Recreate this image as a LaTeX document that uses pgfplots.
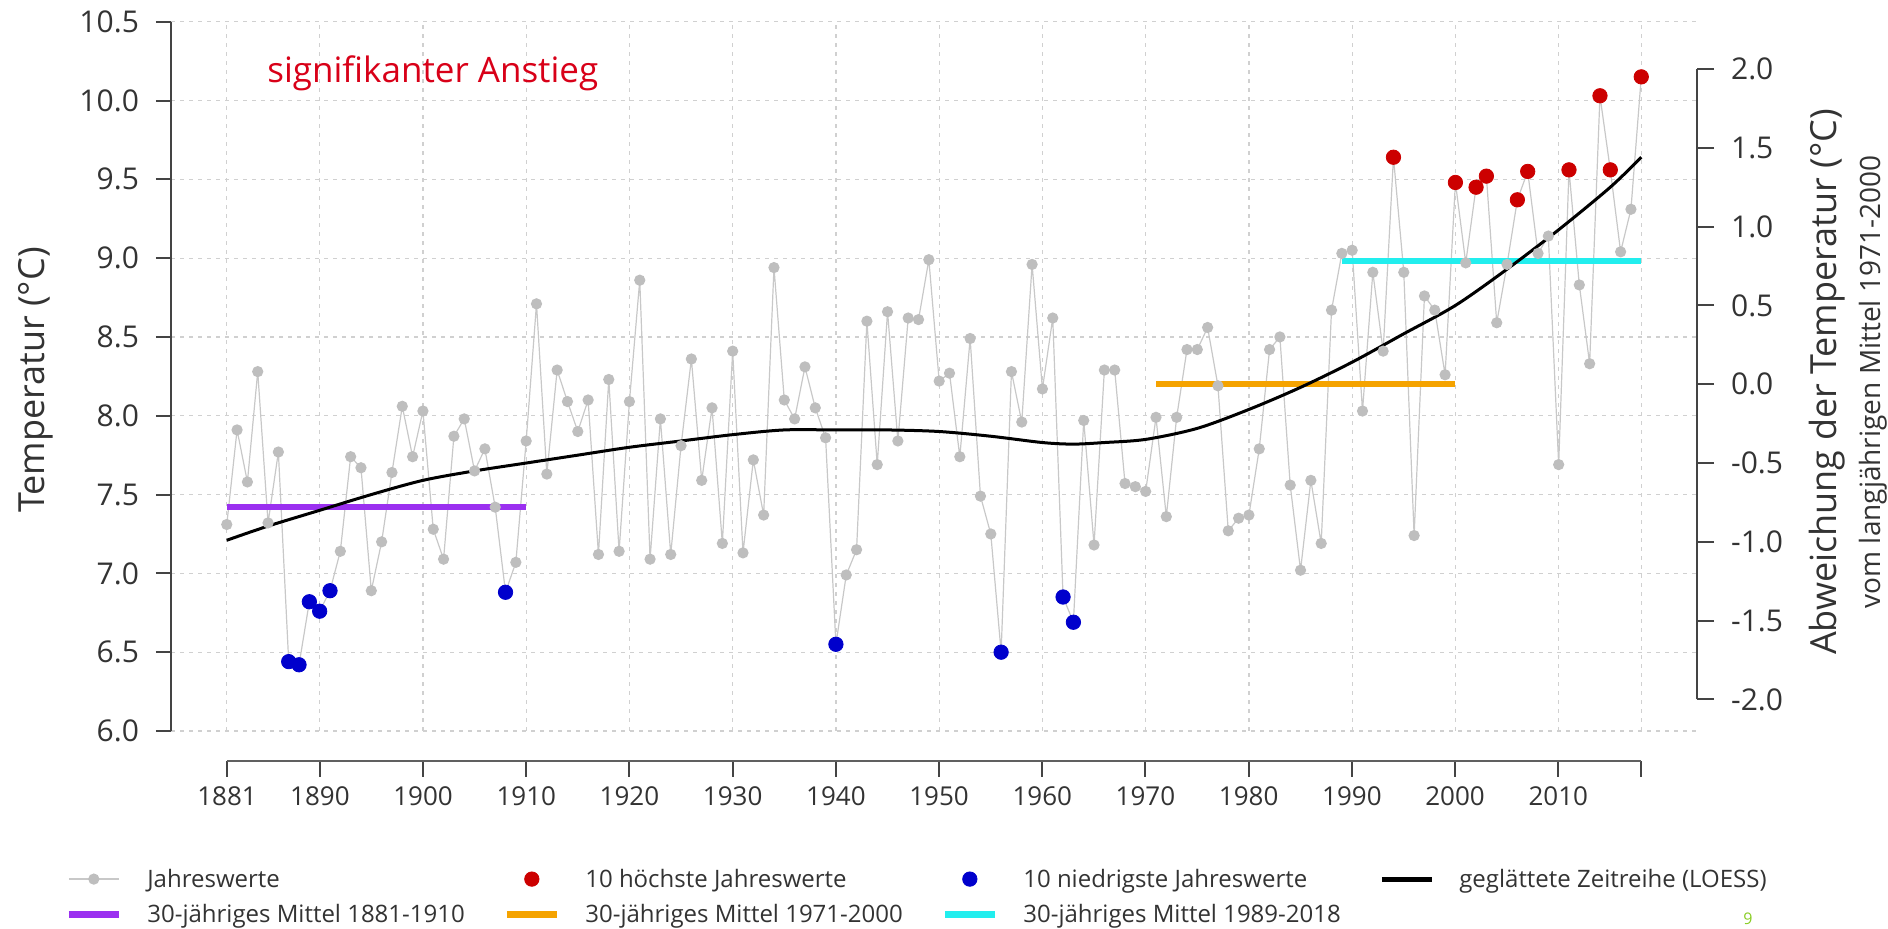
\documentclass[border=0pt]{standalone}
\usepackage{pgfplots}
\pgfplotsset{compat=1.18}
\usepackage{fontspec}
\setmainfont{Open Sans}

\definecolor{ptgray}{HTML}{BEBEBE}
\definecolor{lngray}{HTML}{C8C8C8}
\definecolor{hired}{HTML}{CC0000}
\definecolor{lowblue}{HTML}{0000CC}
\definecolor{mpurple}{HTML}{9B30F0}
\definecolor{morange}{HTML}{F5A300}
\definecolor{mcyan}{HTML}{22EEEE}
\definecolor{axisc}{HTML}{444444}
\definecolor{textc}{HTML}{333333}
\definecolor{gridc}{HTML}{D0D0D0}
\definecolor{sigred}{HTML}{D80018}
\definecolor{pagegreen}{HTML}{88CC22}

\newcommand\tickfont{\fontsize{15}{17}\selectfont}
\newcommand\xtickfont{\fontsize{13}{15}\selectfont}

% annual means 1881-2018
\pgfplotstableread{
year temp
1881 7.31
1882 7.91
1883 7.58
1884 8.28
1885 7.32
1886 7.77
1887 6.44
1888 6.42
1889 6.82
1890 6.76
1891 6.89
1892 7.14
1893 7.74
1894 7.67
1895 6.89
1896 7.20
1897 7.64
1898 8.06
1899 7.74
1900 8.03
1901 7.28
1902 7.09
1903 7.87
1904 7.98
1905 7.65
1906 7.79
1907 7.42
1908 6.88
1909 7.07
1910 7.84
1911 8.71
1912 7.63
1913 8.29
1914 8.09
1915 7.90
1916 8.10
1917 7.12
1918 8.23
1919 7.14
1920 8.09
1921 8.86
1922 7.09
1923 7.98
1924 7.12
1925 7.81
1926 8.36
1927 7.59
1928 8.05
1929 7.19
1930 8.41
1931 7.13
1932 7.72
1933 7.37
1934 8.94
1935 8.10
1936 7.98
1937 8.31
1938 8.05
1939 7.86
1940 6.55
1941 6.99
1942 7.15
1943 8.60
1944 7.69
1945 8.66
1946 7.84
1947 8.62
1948 8.61
1949 8.99
1950 8.22
1951 8.27
1952 7.74
1953 8.49
1954 7.49
1955 7.25
1956 6.50
1957 8.28
1958 7.96
1959 8.96
1960 8.17
1961 8.62
1962 6.85
1963 6.69
1964 7.97
1965 7.18
1966 8.29
1967 8.29
1968 7.57
1969 7.55
1970 7.52
1971 7.99
1972 7.36
1973 7.99
1974 8.42
1975 8.42
1976 8.56
1977 8.19
1978 7.27
1979 7.35
1980 7.37
1981 7.79
1982 8.42
1983 8.50
1984 7.56
1985 7.02
1986 7.59
1987 7.19
1988 8.67
1989 9.03
1990 9.05
1991 8.03
1992 8.91
1993 8.41
1994 9.64
1995 8.91
1996 7.24
1997 8.76
1998 8.67
1999 8.26
2000 9.48
2001 8.97
2002 9.45
2003 9.52
2004 8.59
2005 8.96
2006 9.37
2007 9.55
2008 9.03
2009 9.14
2010 7.69
2011 9.56
2012 8.83
2013 8.33
2014 10.03
2015 9.56
2016 9.04
2017 9.31
2018 10.15
}\annual

\begin{document}
\begin{tikzpicture}
\path[use as bounding box] (0pt,0pt) rectangle (944pt,464.5pt);

% main plot area
\begin{axis}[
  at={(85.5pt,99pt)}, anchor=south west,
  scale only axis, width=763pt, height=354.65pt,
  xmin=1875.6, xmax=2023.4, ymin=6, ymax=10.5,
  axis y line*=left, axis x line*=bottom,
  x axis line style={draw=none},
  y axis line style={draw=axisc, line width=1pt, -},
  xtick={1881,1890,1900,1910,1920,1930,1940,1950,1960,1970,1980,1990,2000,2010,2018},
  xticklabels={}, xtick style={draw=none},
  ytick={6,6.5,...,10.5},
  yticklabels={6.0,6.5,7.0,7.5,8.0,8.5,9.0,9.5,10.0,10.5},
  ytick style={draw=axisc, line width=1pt},
  ytick align=outside, major tick length=7.5pt,
  yticklabel style={font=\tickfont, text=textc, xshift=-5pt},
  grid=major,
  major grid style={draw=gridc, line width=0.6pt, dash pattern=on 2pt off 2.5pt},
  clip=false,
  legend columns=4,
  legend cell align=left,
  legend image code/.code={\draw[mark repeat=2,mark phase=2,#1] plot coordinates {(0pt,0pt) (12.5pt,0pt) (25pt,0pt)};},
  legend style={at={(-0.0695,-0.1923)}, anchor=north west, draw=none, fill=none,
    font=\fontsize{12}{14}\selectfont, text=textc, inner sep=0pt, row sep=6.2pt,
    nodes={inner sep=0pt},
    /tikz/every odd column/.append style={column sep=12.5pt}},
]
\addplot[color=lngray, line width=0.6pt, mark=*, mark size=2.5pt,
  mark options={draw=ptgray, fill=ptgray}, forget plot] table[x=year, y=temp] {\annual};

\addplot[color=mpurple, line width=3pt, forget plot] coordinates {(1881,7.42) (1910,7.42)};
\addplot[color=morange, line width=3pt, forget plot] coordinates {(1971,8.20) (2000,8.20)};
\addplot[color=mcyan, line width=3pt, forget plot] coordinates {(1989,8.98) (2018,8.98)};

\addplot[color=black, line width=1.5pt, smooth, forget plot] coordinates {
  (1881,7.21) (1885,7.30) (1890,7.40) (1895,7.50) (1900,7.59) (1905,7.65)
  (1910,7.70) (1915,7.75) (1920,7.80) (1925,7.84) (1930,7.88) (1935,7.91)
  (1940,7.91) (1945,7.91) (1950,7.90) (1955,7.87) (1960,7.83) (1963,7.82)
  (1966,7.83) (1970,7.85) (1975,7.92) (1980,8.04) (1985,8.18) (1990,8.34)
  (1995,8.52) (2000,8.70) (2005,8.93) (2010,9.18) (2015,9.45) (2018,9.64)};

\addplot[only marks, mark=*, mark size=3.6pt, mark options={draw=hired, fill=hired}, forget plot]
  coordinates {(1994,9.64) (2000,9.48) (2002,9.45) (2003,9.52) (2006,9.37)
  (2007,9.55) (2011,9.56) (2014,10.03) (2015,9.56) (2018,10.15)};
\addplot[only marks, mark=*, mark size=3.6pt, mark options={draw=lowblue, fill=lowblue}, forget plot]
  coordinates {(1887,6.44) (1888,6.42) (1889,6.82) (1890,6.76) (1891,6.89)
  (1908,6.88) (1940,6.55) (1956,6.50) (1962,6.85) (1963,6.69)};

% legend entries, in the order of the reference
\addlegendimage{color=lngray, line width=0.6pt, mark=*, mark size=2.5pt, mark options={draw=ptgray, fill=ptgray}}
\addlegendentry{\makebox[178pt][l]{\strut Jahreswerte}}
\addlegendimage{only marks, mark=*, mark size=3.6pt, mark options={draw=hired, fill=hired}}
\addlegendentry{\makebox[178pt][l]{\strut 10 höchste Jahreswerte}}
\addlegendimage{only marks, mark=*, mark size=3.6pt, mark options={draw=lowblue, fill=lowblue}}
\addlegendentry{\makebox[178pt][l]{\strut 10 niedrigste Jahreswerte}}
\addlegendimage{color=black, line width=2.5pt}
\addlegendentry{\makebox[178pt][l]{\strut geglättete Zeitreihe (LOESS)}}
\addlegendimage{color=mpurple, line width=3.5pt}
\addlegendentry{\makebox[178pt][l]{\strut 30-jähriges Mittel 1881-1910}}
\addlegendimage{color=morange, line width=3.5pt}
\addlegendentry{\makebox[178pt][l]{\strut 30-jähriges Mittel 1971-2000}}
\addlegendimage{color=mcyan, line width=3.5pt}
\addlegendentry{\makebox[178pt][l]{\strut 30-jähriges Mittel 1989-2018}}
\end{axis}

% detached x axis, 1881 to 2018
\begin{axis}[
  at={(113.5pt,84pt)}, anchor=south west,
  scale only axis, width=706.9pt, height=20pt,
  xmin=1881, xmax=2018, ymin=0, ymax=1,
  axis x line*=bottom, axis y line=none, ytick=\empty,
  x axis line style={draw=axisc!85, line width=1.3pt, -},
  xtick={1881,1890,1900,1910,1920,1930,1940,1950,1960,1970,1980,1990,2000,2010,2018},
  xticklabels={1881,1890,1900,1910,1920,1930,1940,1950,1960,1970,1980,1990,2000,2010,{}},
  xtick style={draw=axisc, line width=1pt},
  xtick align=outside, major tick length=8pt,
  xticklabel style={font=\xtickfont, text=textc, yshift=-1.5pt},
]
\addplot[draw=none] coordinates {(1881,0)};
\end{axis}

% right axis: deviation from 1971-2000 mean (8.2)
\begin{axis}[
  at={(848.5pt,114.75pt)}, anchor=south east,
  scale only axis, width=10pt, height=315.2pt,
  xmin=0, xmax=1, ymin=-2, ymax=2,
  axis y line*=right, axis x line=none, xtick=\empty,
  y axis line style={draw=axisc, line width=1pt, -},
  ytick={-2,-1.5,...,2},
  yticklabels={-2.0,-1.5,-1.0,-0.5,0.0,0.5,1.0,1.5,2.0},
  ytick style={draw=axisc, line width=1pt},
  ytick align=outside, major tick length=8.5pt,
  yticklabel style={font=\tickfont, text=textc, anchor=west, xshift=5pt},
]
\addplot[draw=none] coordinates {(0,0)};
\end{axis}

\node[rotate=90, text=textc, font=\fontsize{18}{21}\selectfont] at (18pt,274.5pt) {Temperatur (°C)};
\node[rotate=90, text=textc, font=\fontsize{18}{21}\selectfont] at (913.4pt,273.5pt) {Abweichung der Temperatur (°C)};
\node[rotate=90, text=textc, font=\fontsize{14}{16}\selectfont] at (936.5pt,273.5pt) {vom langjährigen Mittel 1971-2000};
\node[anchor=base west, inner sep=0pt, text=sigred, font=\fontsize{17.5}{20}\selectfont] at (133.5pt,423.2pt) {signifikanter Anstieg};
\node[text=pagegreen, inner sep=0pt, font=\fontsize{8}{9}\selectfont] at (874pt,5pt) {9};
\end{tikzpicture}
\end{document}
